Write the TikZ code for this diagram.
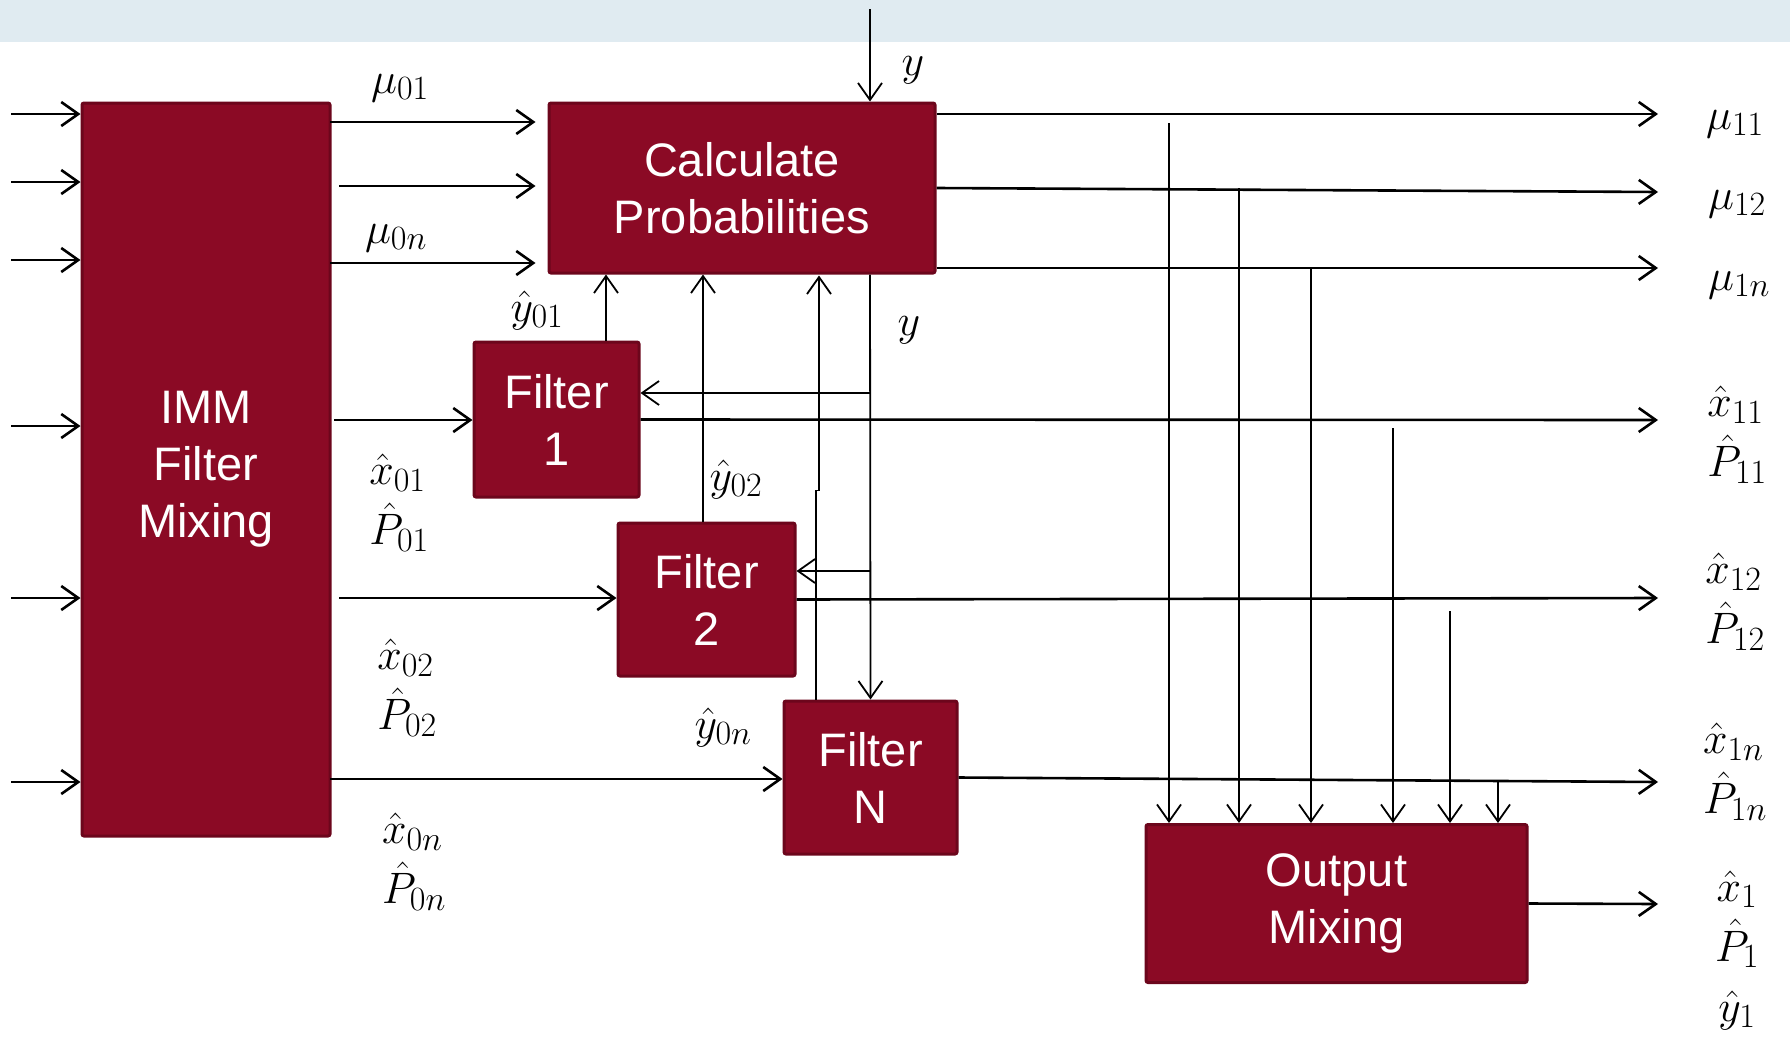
\RequirePackage{fix-cm}
\documentclass[tikz,border=0pt]{standalone}
\usepackage{fontspec}
\setsansfont{Liberation Sans}
\usetikzlibrary{arrows.meta}
\DeclareMathSizes{44}{44}{34}{26}
\definecolor{boxfill}{RGB}{139,10,37}
\definecolor{boxline}{RGB}{108,6,28}
\definecolor{band}{RGB}{224,235,241}
\tikzset{
	block/.style={draw=boxline, line width=3pt, fill=boxfill, rounded corners=2pt, text=white, align=center, inner sep=0pt, font=\sffamily\fontsize{47}{57}\selectfont},
	sig/.style={line width=2.6pt, ->},
	tap/.style={line width=1.8pt, ->},
	lbl/.style={inner sep=0pt, align=left, font=\fontsize{44}{60}\selectfont}
}
\begin{document}
\begin{tikzpicture}[x=1pt, y=-1pt, >={Straight Barb[length=17pt,width=24pt]}]
	\useasboundingbox (0,0) rectangle (1790,1036);
	\fill[band] (0,0) rectangle (1790,42);

	\node[block, minimum width=248pt, minimum height=733pt] (imm) at (206,469.5) {IMM\\Filter\\Mixing};
	\node[block, minimum width=386pt, minimum height=170pt] (calc) at (742,188) {Calculate\\Probabilities};
	\node[block, minimum width=165pt, minimum height=155pt] (f1) at (556.5,419.5) {Filter\\1};
	\node[block, minimum width=177pt, minimum height=153pt] (f2) at (706.5,599.5) {Filter\\2};
	\node[block, minimum width=173pt, minimum height=153pt] (fN) at (870.5,777.5) {Filter\\N};
	\node[block, minimum width=381pt, minimum height=158pt] (mix) at (1336.5,903.5) {Output\\Mixing};

	% inputs of the mixing block
	\foreach \i/\y in {1/114, 2/182, 3/260, 4/426, 5/598, 6/782} {
		\coordinate (in\i) at (11,\y);
		\draw[sig] (in\i) -- (imm.west |- in\i);
	}

	% mixing block to probabilities and filters
	\coordinate (m1) at (330,122);
	\coordinate (m2) at (339,186);
	\coordinate (m3) at (330,263);
	\draw[sig, shorten >=12pt] (m1) -- (calc.west |- m1);
	\draw[sig, shorten >=12pt] (m2) -- (calc.west |- m2);
	\draw[sig, shorten >=12pt] (m3) -- (calc.west |- m3);
	\coordinate (xin1) at (334,420);
	\coordinate (xin2) at (339,598);
	\coordinate (xin3) at (330,779);
	\draw[sig] (xin1) -- (f1.west |- xin1);
	\draw[sig] (xin2) -- (f2.west |- xin2);
	\draw[sig] (xin3) -- (fN.west |- xin3);

	% outputs
	\coordinate (mu11) at (1658,114);
	\coordinate (mu12) at (1658,192);
	\coordinate (mu1n) at (1658,268);
	\draw[sig] (calc.east |- mu11) -- (mu11);
	\draw[sig] (calc.east) -- (mu12);
	\draw[sig] (calc.east |- mu1n) -- (mu1n);
	\coordinate (x11) at (1658,420);
	\coordinate (x12) at (1658,598);
	\coordinate (x1n) at (1658,782);
	\coordinate (x1) at (1658,904);
	\draw[sig] (f1.east) -- (x11);
	\draw[sig] (f2.east) -- (x12);
	\draw[sig] (fN.east) -- (x1n);
	\draw[sig] (mix.east) -- (x1);

	% measurement y
	\coordinate (ytop) at (870,9);
	\coordinate (yb1) at (870,393);
	\coordinate (yb2) at (870,571);
	\draw[tap] (ytop) -- (ytop |- calc.north);
	\draw[tap] (calc.south -| ytop) -- (fN.north);
	\draw[tap] (yb1) -- (f1.east |- yb1);
	\draw[tap] (yb2) -- (f2.east |- yb2);

	% predicted measurements
	\coordinate (yh1) at ([xshift=49.5pt]f1.north);
	\coordinate (yh2) at ([xshift=-3.5pt]f2.north);
	\coordinate (yhn) at ([xshift=-54.5pt]fN.north);
	\draw[tap] (yh1) -- (yh1 |- calc.south);
	\draw[tap] (yh2) -- (yh2 |- calc.south);
	\draw[tap] (yhn) -- ++(0,-209) -- ++(3,0) -- ++(0,-215);

	% taps into output mixing
	\foreach \x/\y in {1169/123, 1239/188, 1311/268, 1393/428, 1450/611, 1498/782} {
		\coordinate (tp) at (\x,\y);
		\draw[tap] (tp) -- (tp |- mix.north);
	}

	\node[lbl] (ly1) at (913,70) {$y$};
	\node[lbl] (ly2) at (909,330) {$y$};
	\node[lbl] (lmu01) at (400,88) {$\mu_{01}$};
	\node[lbl] (lmu0n) at (396,238) {$\mu_{0n}$};
	\node[lbl] (ly01) at (537,310) {$\hat{y}_{01}$};
	\node[lbl] (ly02) at (736,479) {$\hat{y}_{02}$};
	\node[lbl] (ly0n) at (723,727) {$\hat{y}_{0n}$};
	\node[lbl] (lx01) at (399,503) {$\hat{x}_{01}$\\$\hat{P}_{01}$};
	\node[lbl] (lx02) at (407,688) {$\hat{x}_{02}$\\$\hat{P}_{02}$};
	\node[lbl] (lx0n) at (414,862) {$\hat{x}_{0n}$\\$\hat{P}_{0n}$};
	\node[lbl] (lmu11) at (1735,124) {$\mu_{11}$};
	\node[lbl] (lmu12) at (1737,204) {$\mu_{12}$};
	\node[lbl] (lmu1n) at (1739,285) {$\mu_{1n}$};
	\node[lbl] (lx11) at (1737,435) {$\hat{x}_{11}$\\$\hat{P}_{11}$};
	\node[lbl] (lx12) at (1735,602) {$\hat{x}_{12}$\\$\hat{P}_{12}$};
	\node[lbl] (lx1n) at (1735,772) {$\hat{x}_{1n}$\\$\hat{P}_{1n}$};
	\node[lbl, align=center] (lx1) at (1737,950) {$\hat{x}_{1}$\\$\hat{P}_{1}$\\$\hat{y}_{1}$};
\end{tikzpicture}
\end{document}
